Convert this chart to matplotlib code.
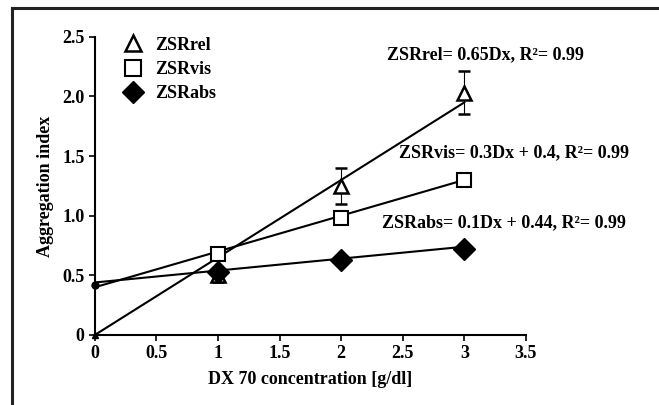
import numpy as np
import matplotlib
matplotlib.use('Agg')
import matplotlib.pyplot as plt
from matplotlib.lines import Line2D

plt.rcParams['font.family'] = ['Liberation Serif', 'DejaVu Serif']
plt.rcParams['font.weight'] = 'bold'

# measured points
dx = [0, 1, 2, 3]
rel = [0.0, 0.50, 1.25, 2.03]
rel_err = [0.0, 0.06, 0.15, 0.18]
vis = [0.40, 0.68, 0.98, 1.30]
vis_err = [0.0, 0.0, 0.03, 0.05]
absv = [0.42, 0.53, 0.63, 0.72]

# fitted trend lines (slope, intercept)
fit_rel = (0.65, 0.0)
fit_vis = (0.3, 0.4)
fit_abs = (0.1, 0.44)

xticks = [0, 0.5, 1, 1.5, 2, 2.5, 3, 3.5]
xlabels = ['0', '0.5', '1', '1.5', '2', '2.5', '3', '3.5']
yticks = [0, 0.5, 1.0, 1.5, 2.0, 2.5]
ylabels = ['0', '0.5', '1.0', '1.5', '2.0', '2.5']

fs = 13

fig = plt.figure(figsize=(6.59, 4.05), dpi=100)
ax = fig.add_axes([0.144, 0.173, 0.654, 0.736])

xf = np.array([0, 3])
for m, b in (fit_rel, fit_vis, fit_abs):
    ax.plot(xf, m * xf + b, color='black', lw=1.5, zorder=2)

# points at x=0 sit on the axis and show up small
ax.plot(dx[0], rel[0], marker='^', ms=5, color='black', ls='none', zorder=3, clip_on=False)
ax.plot(dx[0], absv[0], marker='o', ms=5, color='black', ls='none', zorder=3, clip_on=False)

ax.errorbar(dx[1:], rel[1:], yerr=rel_err[1:], fmt='^', ms=10, mfc='white', mec='black',
            mew=1.8, ecolor='black', elinewidth=0.8, capsize=4, zorder=4)
ax.errorbar(dx[1:], vis[1:], yerr=vis_err[1:], fmt='s', ms=10, mfc='white', mec='black',
            mew=1.5, ecolor='black', elinewidth=0.8, capsize=4, zorder=4)
ax.plot(dx[1:], absv[1:], marker='D', ms=11, color='black', ls='none', zorder=5)

ax.set_xlim(0, 3.5)
ax.set_ylim(0, 2.5)
ax.set_xticks(xticks)
ax.set_xticklabels(xlabels)
ax.set_yticks(yticks)
ax.set_yticklabels(ylabels)
ax.tick_params(direction='out', length=4, width=1.2, labelsize=fs)
for s in ('top', 'right'):
    ax.spines[s].set_visible(False)
for s in ('left', 'bottom'):
    ax.spines[s].set_linewidth(1.5)

ax.set_xlabel('DX 70 concentration [g/dl]', fontsize=fs, fontweight='bold', labelpad=6)
ax.set_ylabel('Aggregation index', fontsize=fs, fontweight='bold', labelpad=6)

ax.text(2.37, 2.35, 'ZSRrel= 0.65Dx, R²= 0.99', fontsize=fs, fontweight='bold', va='center')
ax.text(2.47, 1.53, 'ZSRvis= 0.3Dx + 0.4, R²= 0.99', fontsize=fs, fontweight='bold', va='center')
ax.text(2.33, 0.94, 'ZSRabs= 0.1Dx + 0.44, R²= 0.99', fontsize=fs, fontweight='bold', va='center')

handles = [
    Line2D([], [], marker='^', ms=11, mfc='white', mec='black', mew=1.8, ls='none'),
    Line2D([], [], marker='s', ms=11, mfc='white', mec='black', mew=1.5, ls='none'),
    Line2D([], [], marker='D', ms=11, color='black', ls='none'),
]
ax.legend(handles, ['ZSRrel', 'ZSRvis', 'ZSRabs'], loc='upper left',
          bbox_to_anchor=(0.03, 1.025), frameon=False, fontsize=fs,
          handletextpad=0.2, labelspacing=0.4, borderaxespad=0)

# outer frame (top and left only are visible)
fig.add_artist(Line2D([0.018, 1.0], [0.980, 0.980], color='#222222', lw=2.2, transform=fig.transFigure))
fig.add_artist(Line2D([0.018, 0.018], [0.0, 0.980], color='#222222', lw=2.2, transform=fig.transFigure))

fig.savefig('out.png', dpi=100)
